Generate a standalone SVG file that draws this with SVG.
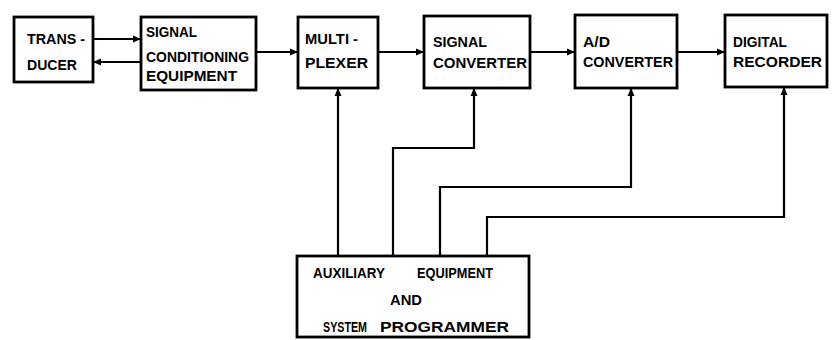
<svg xmlns="http://www.w3.org/2000/svg" width="832" height="340" viewBox="0 0 832 340">
<defs>
<marker id="ah" markerWidth="8" markerHeight="8" refX="7" refY="4" orient="auto" markerUnits="userSpaceOnUse">
<path d="M0,0.5 L8,4 L0,7.5 z" fill="#000"/>
</marker>
<style>
.box{fill:#fff;stroke:#000;stroke-width:2.8}
.ln{fill:none;stroke:#000;stroke-width:2.2}
text{font-family:"Liberation Sans",Arial,sans-serif;font-size:15px;font-weight:bold;fill:#000}
</style>
</defs>
<rect width="832" height="340" fill="#fff"/>
<g id="connectors">
<line class="ln" x1="94" y1="39" x2="140" y2="39" marker-end="url(#ah)"/>
<line class="ln" x1="140" y1="62" x2="94" y2="62" marker-end="url(#ah)"/>
<line class="ln" x1="257" y1="52" x2="297" y2="52" marker-end="url(#ah)"/>
<line class="ln" x1="379" y1="52" x2="423" y2="52" marker-end="url(#ah)"/>
<line class="ln" x1="531" y1="52" x2="574" y2="52" marker-end="url(#ah)"/>
<line class="ln" x1="678" y1="52" x2="724" y2="52" marker-end="url(#ah)"/>
<polyline class="ln" points="338,255 338,89" marker-end="url(#ah)"/>
<polyline class="ln" points="393,255 393,148 474,148 474,89" marker-end="url(#ah)"/>
<polyline class="ln" points="440,255 440,187 631,187 631,89" marker-end="url(#ah)"/>
<polyline class="ln" points="487,255 487,217 784,217 784,88" marker-end="url(#ah)"/>
</g>
<g id="transducer">
<rect class="box" x="14" y="17" width="79" height="65"/>
<text x="27" y="44" textLength="58" lengthAdjust="spacingAndGlyphs">TRANS -</text>
<text x="27" y="70" textLength="50" lengthAdjust="spacingAndGlyphs">DUCER</text>
</g>
<g id="signal-conditioning">
<rect class="box" x="141" y="17" width="115" height="73"/>
<text x="146" y="37" textLength="51" lengthAdjust="spacingAndGlyphs">SIGNAL</text>
<text x="146" y="62" textLength="103" lengthAdjust="spacingAndGlyphs">CONDITIONING</text>
<text x="146" y="81" textLength="91" lengthAdjust="spacingAndGlyphs">EQUIPMENT</text>
</g>
<g id="multiplexer">
<rect class="box" x="298" y="17" width="80" height="71"/>
<text x="305" y="44" textLength="53" lengthAdjust="spacingAndGlyphs">MULTI -</text>
<text x="305" y="68" textLength="63" lengthAdjust="spacingAndGlyphs">PLEXER</text>
</g>
<g id="signal-converter">
<rect class="box" x="424" y="16" width="106" height="72"/>
<text x="433" y="47" textLength="54" lengthAdjust="spacingAndGlyphs">SIGNAL</text>
<text x="433" y="68" textLength="94" lengthAdjust="spacingAndGlyphs">CONVERTER</text>
</g>
<g id="ad-converter">
<rect class="box" x="575" y="15" width="102" height="73"/>
<text x="583" y="47" textLength="27" lengthAdjust="spacingAndGlyphs">A/D</text>
<text x="583" y="67" textLength="90" lengthAdjust="spacingAndGlyphs">CONVERTER</text>
</g>
<g id="digital-recorder">
<rect class="box" x="725" y="15" width="102" height="72"/>
<text x="733" y="47" textLength="54" lengthAdjust="spacingAndGlyphs">DIGITAL</text>
<text x="733" y="67" textLength="89" lengthAdjust="spacingAndGlyphs">RECORDER</text>
</g>
<g id="auxiliary">
<rect class="box" x="297" y="256" width="232" height="81"/>
<text x="313" y="278" textLength="72" lengthAdjust="spacingAndGlyphs">AUXILIARY</text>
<text x="417" y="278" textLength="76" lengthAdjust="spacingAndGlyphs">EQUIPMENT</text>
<text x="390" y="305" textLength="32" lengthAdjust="spacingAndGlyphs">AND</text>
<text x="323" y="332" textLength="44" lengthAdjust="spacingAndGlyphs">SYSTEM</text>
<text x="380" y="332" textLength="129" lengthAdjust="spacingAndGlyphs">PROGRAMMER</text>
</g>
</svg>
